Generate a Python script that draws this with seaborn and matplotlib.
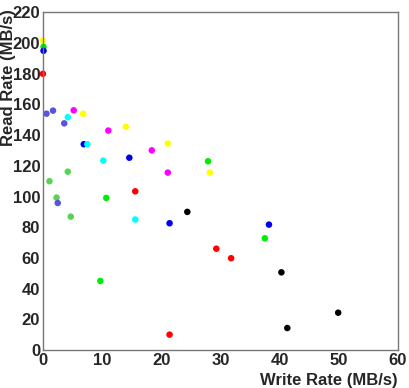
import seaborn as sns
import pandas as pd
import matplotlib.pyplot as plt
from matplotlib.ticker import MultipleLocator

# one list of (write, read) points per colour group
black_w = [24.4, 40.3, 49.9, 41.3]
black_r = [90.0, 50.6, 24.3, 14.3]
red_w = [0.0, 15.6, 29.3, 31.8, 21.4]
red_r = [180.0, 103.4, 66.0, 59.8, 10.0]
green_w = [0.1, 10.7, 9.7, 27.9, 37.5]
green_r = [197.6, 99.1, 45.0, 123.0, 72.8]
blue_w = [0.1, 6.9, 14.6, 21.4, 38.2]
blue_r = [195.0, 134.1, 125.3, 82.6, 81.7]
yellow_w = [0.0, 6.8, 14.0, 21.1, 28.2]
yellow_r = [201.7, 154.0, 145.4, 134.5, 115.6]
magenta_w = [5.2, 11.05, 18.4, 21.1]
magenta_r = [156.2, 143.0, 130.1, 115.6]
cyan_w = [4.2, 7.5, 10.2, 15.6]
cyan_r = [151.7, 134.1, 123.4, 85.0]
lgreen_w = [4.2, 1.1, 2.3, 4.7]
lgreen_r = [116.2, 110.0, 99.3, 86.9]
violet_w = [0.6, 1.7, 3.6, 2.5]
violet_r = [154.0, 156.0, 147.7, 95.8]

groups = {
    'black': (black_w, black_r, '#000000'),
    'red': (red_w, red_r, '#ff0000'),
    'green': (green_w, green_r, '#00ee00'),
    'blue': (blue_w, blue_r, '#0000ee'),
    'yellow': (yellow_w, yellow_r, '#ffff00'),
    'magenta': (magenta_w, magenta_r, '#ff00ff'),
    'cyan': (cyan_w, cyan_r, '#00ffff'),
    'lgreen': (lgreen_w, lgreen_r, '#59d354'),
    'violet': (violet_w, violet_r, '#5954d8'),
}

rows = []
for name, (w, r, c) in groups.items():
    for a, b in zip(w, r):
        rows.append({'write': a, 'read': b, 'set': name})
df = pd.DataFrame(rows)
palette = {k: v[2] for k, v in groups.items()}

sns.set_style('white')
plt.rcParams['font.family'] = ['Liberation Sans', 'DejaVu Sans']

fig = plt.figure(figsize=(4.09, 3.88), dpi=100)
ax = fig.add_axes([0.105, 0.098, 0.868, 0.870])
sns.scatterplot(data=df, x='write', y='read', hue='set', palette=palette,
                s=22, edgecolor='none', legend=False, ax=ax, clip_on=False)

ax.set_xlim(0, 60)
ax.set_ylim(0, 220)
ax.xaxis.set_major_locator(MultipleLocator(10))
ax.xaxis.set_minor_locator(MultipleLocator(2))
ax.yaxis.set_major_locator(MultipleLocator(20))
ax.yaxis.set_minor_locator(MultipleLocator(5))
ax.tick_params(which='both', direction='in', color='#777777', width=1,
               top=False, right=False)
ax.tick_params(which='major', length=10, labelsize=12, pad=2)
ax.tick_params(which='minor', length=5)
for lab in ax.get_xticklabels() + ax.get_yticklabels():
    lab.set_fontweight('bold')
for sp in ax.spines.values():
    sp.set_color('#777777')
    sp.set_linewidth(1)

ax.set_xlabel('Write Rate (MB/s)', fontsize=12, fontweight='bold', loc='right')
ax.set_ylabel('Read Rate (MB/s)', fontsize=12, fontweight='bold', loc='top')
ax.xaxis.set_label_coords(1.0, -0.068)
ax.yaxis.set_label_coords(-0.075, 1.01)

fig.savefig('out.png', dpi=100)
